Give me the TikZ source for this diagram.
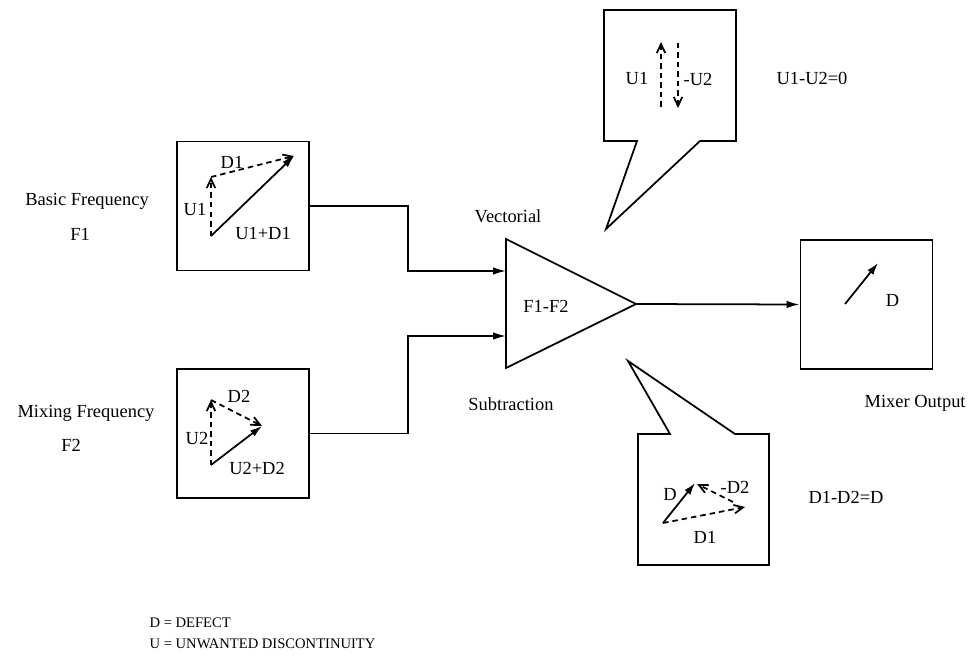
\documentclass[tikz,border=0pt]{standalone}
\usepackage{fontspec}
\setmainfont{Liberation Serif}
\usetikzlibrary{arrows.meta,positioning,calc}
\tikzset{
  blk/.style={draw, minimum width=2.64cm, minimum height=2.58cm, inner sep=0pt},
  vec/.style={-{Latex[length=2.4mm,width=1.5mm]}},
  dvec/.style={dash pattern=on 1.1mm off 0.8mm, -{Straight Barb[length=1.8mm,width=1.7mm]}},
  wire/.style={-{Latex[length=2.6mm,width=1.5mm]}},
  lbl/.style={inner sep=1pt}
}

\begin{document}
\begin{tikzpicture}[font=\fontsize{10.5}{12}\selectfont, line width=1pt]
  \useasboundingbox (0,0) rectangle (19.44,13.3);
  % Input boxes
  \node[blk] (basic) at (4.86,9.18) {};
  \node[blk] (mixing) at (4.86,4.63) {};
  % Output box
  \node[blk] (mixer) at (17.33,7.21) {};
  % Subtractor triangle
  \draw (10.12,8.52) -- (12.72,7.22) -- (10.12,5.94) -- cycle;
  \coordinate (in1) at (10.12,7.88);
  \coordinate (in2) at (10.12,6.58);
  \coordinate (out) at (12.72,7.22);
  \node[lbl] (sub) at (10.92,7.18) {F1-F2};
  % Wires
  \draw[wire] (basic.east) -- ++(1.96,0) |- (in1);
  \draw[wire] (mixing.east) -- ++(1.96,0) |- (in2);
  \draw[wire] (out) -- (mixer.west);
  % Side labels
  \node[lbl] (bf) at (1.74,9.28) {Basic Frequency};
  \node[lbl] (f1) at (1.6,8.62) {F1};
  \node[lbl] (mf) at (1.72,5.04) {Mixing Frequency};
  \node[lbl] (f2) at (1.42,4.4) {F2};
  \node[lbl] (vect) at (10.16,8.98) {Vectorial};
  \node[lbl] (subtr) at (10.22,5.22) {Subtraction};
  \node[lbl, anchor=west] (mo) at (17.24,5.24) {Mixer Output};
  % Vectors in basic box
  \draw[dvec] (4.22,8.58) -- (4.22,9.76);
  \draw[dvec] (4.22,9.76) -- (5.88,10.18);
  \draw[vec] (4.22,8.58) -- (5.88,10.18);
  \node[lbl] (d1a) at (4.64,10.06) {D1};
  \node[lbl] (u1a) at (3.9,9.12) {U1};
  \node[lbl] (s1) at (5.26,8.64) {U1+D1};
  % Vectors in mixing box
  \draw[dvec] (4.22,4.0) -- (4.22,5.3);
  \draw[dvec] (4.22,5.3) -- (5.24,4.78);
  \draw[vec] (4.22,4.0) -- (5.24,4.78);
  \node[lbl] (d2a) at (4.78,5.38) {D2};
  \node[lbl] (u2a) at (3.94,4.54) {U2};
  \node[lbl] (s2) at (5.14,3.94) {U2+D2};
  % Vector in output box
  \draw[vec] (16.9,7.22) -- (17.56,8.04);
  \node[lbl] (dout) at (17.85,7.3) {D};
  % Upper callout
  \draw (12.08,13.1) -- (12.08,10.48) -- (12.74,10.48) -- (12.12,8.72)
    -- (14.0,10.48) -- (14.72,10.48) -- (14.72,13.1) -- cycle;
  \draw[dvec] (13.22,11.16) -- (13.22,12.46);
  \draw[dvec] (13.56,12.44) -- (13.56,11.14);
  \node[lbl] (u1b) at (12.74,11.72) {U1};
  \node[lbl] (u2b) at (13.96,11.72) {-U2};
  \node[lbl] (equ) at (16.24,11.74) {U1-U2=0};
  % Lower callout
  \draw (12.76,4.62) -- (13.4,4.62) -- (12.56,6.08) -- (14.7,4.62)
    -- (15.38,4.62) -- (15.38,2.0) -- (12.76,2.0) -- cycle;
  \draw[vec] (13.26,2.84) -- (13.9,3.64);
  \draw[dvec] (14.66,3.26) -- (13.94,3.62);
  \draw[dvec] (13.26,2.84) -- (14.9,3.16);
  \node[lbl] (dl) at (13.4,3.42) {D};
  \node[lbl] (d2b) at (14.7,3.56) {-D2};
  \node[lbl] (d1b) at (14.1,2.56) {D1};
  \node[lbl] (eqd) at (16.92,3.36) {D1-D2=D};
  % Legend
  \node[lbl, anchor=west, font=\fontsize{8.3}{10}\selectfont] (lgd) at (2.94,0.84) {D = DEFECT};
  \node[lbl, anchor=west, font=\fontsize{8.3}{10}\selectfont] (lgu) at (2.94,0.42) {U = UNWANTED DISCONTINUITY};
\end{tikzpicture}
\end{document}
